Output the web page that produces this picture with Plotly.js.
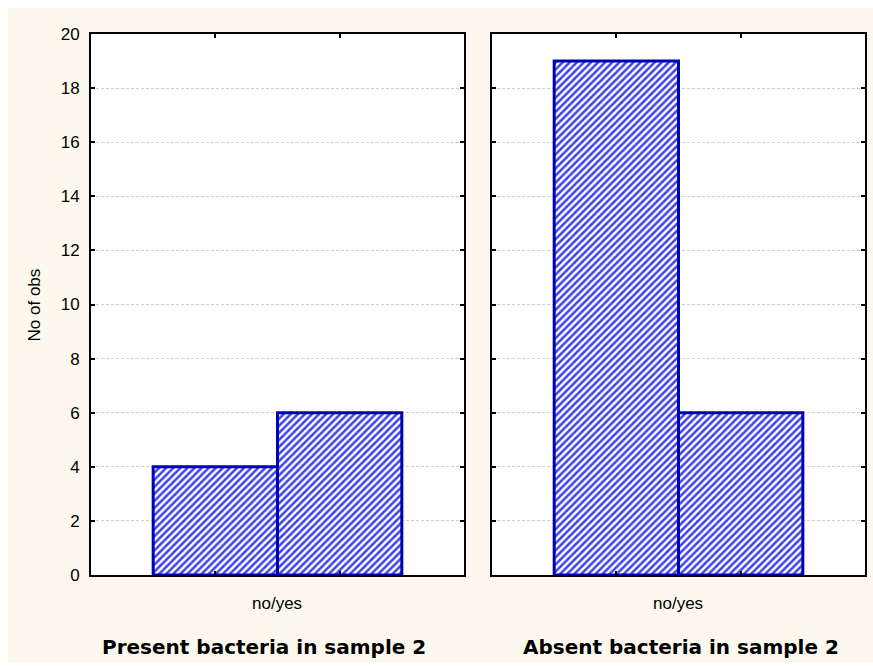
<!DOCTYPE html>
<html>
<head>
<meta charset="utf-8">
<script src="https://cdn.plot.ly/plotly-3.0.1.min.js"></script>
<style>
html,body{margin:0;padding:0;background:#ffffff;}
#chart{position:absolute;left:8px;top:8px;width:865px;height:655px;}
</style>
</head>
<body>
<div id="chart"></div>
<script>
// Data
const categories = ["no", "yes"];
const categoryPositions = [1, 2];
const presentCounts = [4, 6];
const absentCounts = [19, 6];
const panelTitles = ["Present bacteria in sample 2", "Absent bacteria in sample 2"];
const xAxisLabel = "no/yes";
const yAxisLabel = "No of obs";
const yTickVals = [0, 2, 4, 6, 8, 10, 12, 14, 16, 18, 20];

const barStyle = {
  color: "#ffffff",
  line: {color: "#0000b4", width: 3},
  pattern: {shape: "/", fgcolor: "#4040f0", bgcolor: "#ffffff", size: 5, solidity: 0.5}
};

const traces = [
  {type: "bar", x: categoryPositions, y: presentCounts, width: 1, marker: barStyle,
   xaxis: "x", yaxis: "y", text: categories, textposition: "none", hoverinfo: "x+y"},
  {type: "bar", x: categoryPositions, y: absentCounts, width: 1, marker: barStyle,
   xaxis: "x2", yaxis: "y2", text: categories, textposition: "none", hoverinfo: "x+y"}
];

const xBase = {
  range: [0, 3], tickvals: categoryPositions, showticklabels: false,
  ticks: "inside", ticklen: 4, tickwidth: 2, tickcolor: "#000",
  showline: true, linecolor: "#000", linewidth: 2, mirror: "ticks",
  showgrid: false, zeroline: false, fixedrange: true
};
const yBase = {
  range: [0, 20], tickvals: yTickVals,
  ticks: "inside", ticklen: 4, tickwidth: 2, tickcolor: "#000",
  showline: true, linecolor: "#000", linewidth: 2, mirror: "ticks",
  showgrid: true, gridcolor: "#cfcfcf", gridwidth: 1, griddash: "3px,2px",
  zeroline: false, fixedrange: true,
  tickfont: {family: "Liberation Sans, Arial, sans-serif", size: 17, color: "#000"},
  ticklabelstandoff: 6
};

const layout = {
  width: 865, height: 655,
  paper_bgcolor: "#fdf8ee", plot_bgcolor: "#ffffff",
  margin: {l: 83, r: 8, t: 26, b: 88},
  showlegend: false,
  bargap: 0,
  xaxis: Object.assign({}, xBase, {domain: [0, 0.4819], anchor: "y"}),
  yaxis: Object.assign({}, yBase, {anchor: "x"}),
  xaxis2: Object.assign({}, xBase, {domain: [0.5181, 1], anchor: "y2"}),
  yaxis2: Object.assign({}, yBase, {anchor: "x2", showticklabels: false}),
  annotations: [
    {text: xAxisLabel, xref: "paper", yref: "paper", x: 0.2397, y: -0.052, showarrow: false,
     xanchor: "center", yanchor: "middle", font: {family: "Liberation Sans, Arial, sans-serif", size: 17, color: "#000"}},
    {text: xAxisLabel, xref: "paper", yref: "paper", x: 0.759, y: -0.052, showarrow: false,
     xanchor: "center", yanchor: "middle", font: {family: "Liberation Sans, Arial, sans-serif", size: 17, color: "#000"}},
    {text: "<b>" + panelTitles[0] + "</b>", xref: "paper", yref: "paper", x: 0.2235, y: -0.133, showarrow: false,
     xanchor: "center", yanchor: "middle", font: {family: "DejaVu Sans, sans-serif", size: 20, color: "#000"}},
    {text: "<b>" + panelTitles[1] + "</b>", xref: "paper", yref: "paper", x: 0.762, y: -0.133, showarrow: false,
     xanchor: "center", yanchor: "middle", font: {family: "DejaVu Sans, sans-serif", size: 20, color: "#000"}},
    {text: yAxisLabel, xref: "paper", yref: "paper", x: -0.0724, y: 0.5, showarrow: false, textangle: -90,
     xanchor: "center", yanchor: "middle", font: {family: "Liberation Sans, Arial, sans-serif", size: 17, color: "#000"}}
  ]
};

Plotly.newPlot("chart", traces, layout, {displayModeBar: false, staticPlot: true});
</script>
</body>
</html>
